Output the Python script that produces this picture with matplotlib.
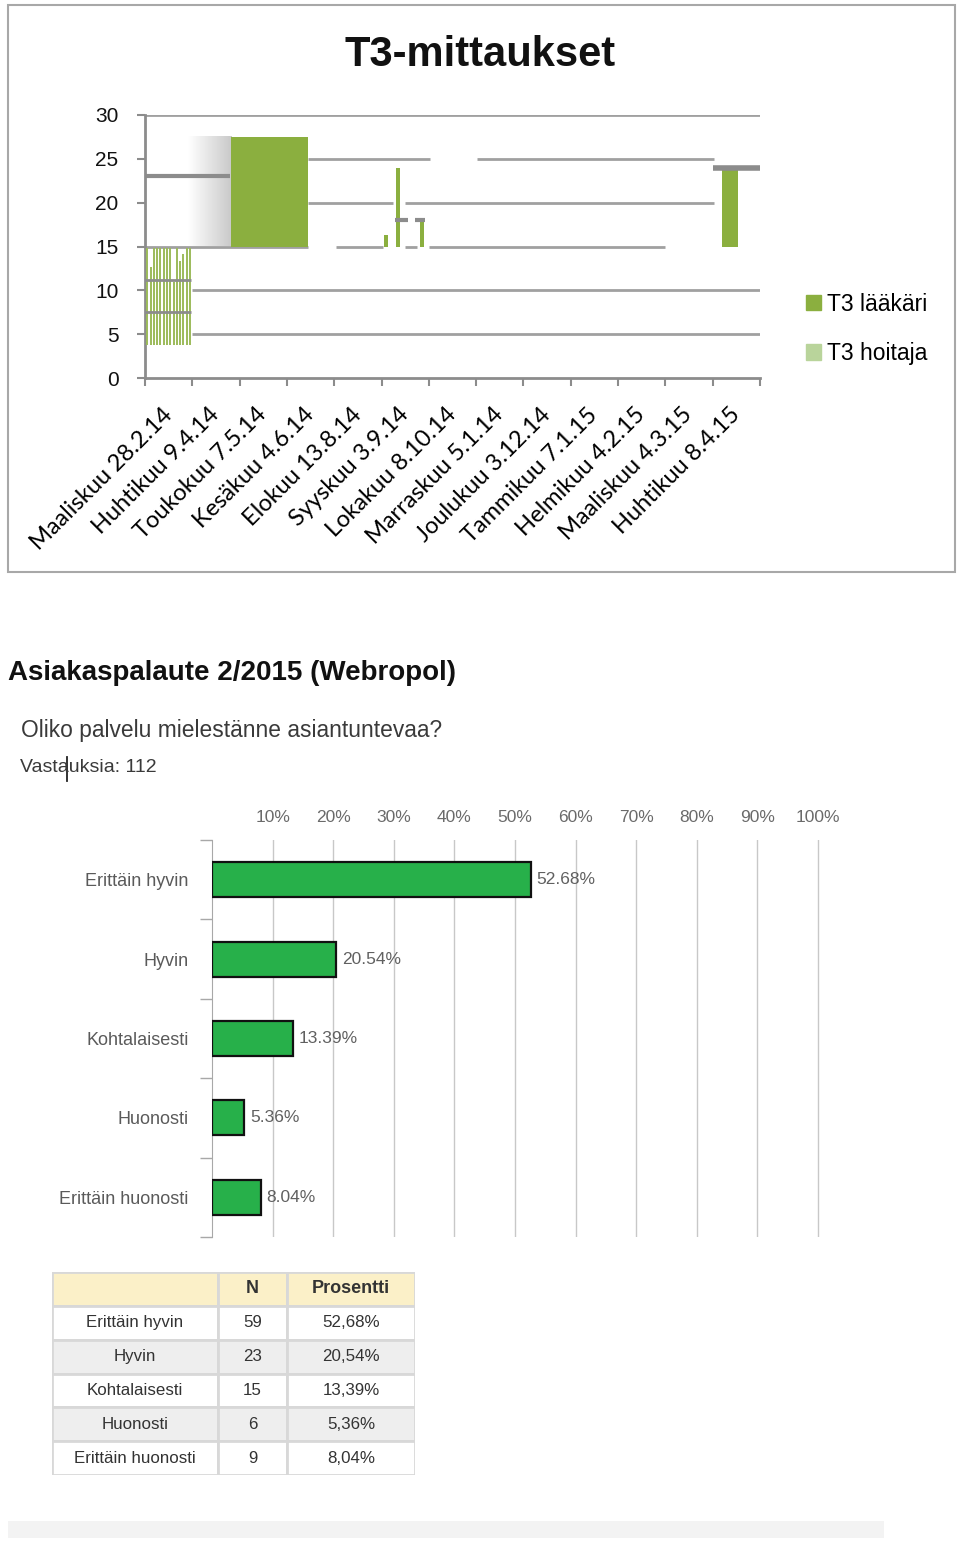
import numpy as np
import matplotlib.pyplot as plt
from matplotlib.patches import Rectangle, Patch
from matplotlib.lines import Line2D
from matplotlib.colors import LinearSegmentedColormap

W, H = 960, 1541
plt.rcParams['font.family'] = ['Liberation Sans', 'DejaVu Sans']

# ---- T3-mittaukset (the source chart is rendered broken, values read as drawn) ----
t3_dates = ['Maaliskuu 28.2.14', 'Huhtikuu 9.4.14', 'Toukokuu 7.5.14', 'Kesäkuu 4.6.14',
            'Elokuu 13.8.14', 'Syyskuu 3.9.14', 'Lokakuu 8.10.14', 'Marraskuu 5.1.14',
            'Joulukuu 3.12.14', 'Tammikuu 7.1.15', 'Helmikuu 4.2.15', 'Maaliskuu 4.3.15',
            'Huhtikuu 8.4.15']
series_names = ['T3 lääkäri', 'T3 hoitaja']
series_colors = ['#8BAF3F', '#B9D49B']

# lääkäri bars: position (category units), width, bottom, top
laakari_pos = [2.63, 5.09, 5.35, 5.86, 12.37]
laakari_w = [1.63, 0.08, 0.08, 0.08, 0.34]
laakari_low = [15, 15, 15, 15, 15]
laakari_high = [27.5, 16.3, 24, 18, 24]

# hoitaja shows up as thin stripes in the first category
hoitaja_top = [14.8, 12.7, 14.8, 14.8, 14.8, 14.8, 14.8, 14.8, 11.0, 14.8, 13.4, 14.2, 14.8, 14.8]
hoitaja_low = 3.8

# grey caps / stray lines
cap_y = [23, 24, 18, 18, 11.2, 7.5]
cap_x0 = [0, 12.0, 5.28, 5.70, 0, 0]
cap_x1 = [1.8, 13.0, 5.56, 5.92, 0.98, 0.98]
cap_lw = [3, 4, 3, 3, 2, 2]

# broken gridlines
grid_y = [30, 25, 25, 20, 20, 15, 15, 15, 15, 10, 5]
grid_x0 = [0, 3.45, 7.02, 3.45, 5.49, 0, 4.04, 5.49, 6.0, 1.0, 1.0]
grid_x1 = [13, 6.02, 12.03, 5.24, 12.03, 3.45, 5.03, 5.75, 11.0, 13, 13]

# ---- Webropol survey ----
answers = ['Erittäin hyvin', 'Hyvin', 'Kohtalaisesti', 'Huonosti', 'Erittäin huonosti']
counts = [59, 23, 15, 6, 9]
percents = [52.68, 20.54, 13.39, 5.36, 8.04]
pct_ticks = [10, 20, 30, 40, 50, 60, 70, 80, 90, 100]
table_header = ['', 'N', 'Prosentti']


def px(x0, y0, x1, y1):
    return [x0 / W, 1 - y1 / H, (x1 - x0) / W, (y1 - y0) / H]


fig = plt.figure(figsize=(W / 100, H / 100), dpi=100)

# frame around the first chart
fig.patches.append(Rectangle((8 / W, 1 - 572 / H), 947 / W, 567 / H, transform=fig.transFigure,
                             fill=False, edgecolor='#A8A8A8', lw=1.5))
fig.text(480 / W, 1 - 55 / H, 'T3-mittaukset', ha='center', va='center',
         fontsize=30, fontweight='bold', color='#111111')

ax = fig.add_axes(px(145, 115, 760, 378))
ax.set_xlim(0, 13)
ax.set_ylim(0, 30)
gray = '#8C8C8C'
ax.hlines(grid_y, grid_x0, grid_x1, colors='#A0A0A0', lw=2, zorder=1)

# shadow that sits left of the big bar
shade = LinearSegmentedColormap.from_list('shade', ['#FFFFFF', '#FFFFFF', '#C9C9C9'])
ax.imshow(np.linspace(0, 1, 200)[None, :], cmap=shade, extent=(0, 1.82, 15, 27.5),
          aspect='auto', zorder=1.5)

ax.bar(laakari_pos, np.array(laakari_high) - np.array(laakari_low), width=laakari_w,
       bottom=laakari_low, color=series_colors[0], zorder=3)
stripe_x = np.linspace(0.05, 0.95, len(hoitaja_top))
ax.vlines(stripe_x, hoitaja_low, hoitaja_top, colors='#9CBB5A', lw=1.4, zorder=3)
ax.hlines(cap_y, cap_x0, cap_x1, colors=gray, lw=cap_lw, zorder=4)

for sp in ['top', 'right']:
    ax.spines[sp].set_visible(False)
for sp in ['left', 'bottom']:
    ax.spines[sp].set_color(gray)
    ax.spines[sp].set_linewidth(2)
ax.set_yticks(range(0, 31, 5))
ax.tick_params(axis='y', length=6, width=1.5, color=gray, pad=13, labelsize=15, labelcolor='#111111')
ax.set_xticks(range(14))
ax.set_xticklabels([])
ax.tick_params(axis='x', which='major', length=6, width=1.5, color=gray)
ax.set_xticks(np.arange(13) + 0.5, minor=True)
ax.set_xticklabels(t3_dates, minor=True, rotation=45, ha='right', va='center',
                   rotation_mode='anchor', fontsize=17, family=['Lato', 'DejaVu Sans'])
ax.tick_params(axis='x', which='minor', length=0, pad=24)
ax.patch.set_alpha(0)

handles = [Patch(color=c) for c in series_colors]
fig.legend(handles, series_names, loc='center left', bbox_to_anchor=(785 / W, 1 - 329 / H),
           frameon=False, fontsize=16.5, labelspacing=1.15, handlelength=0.65, handleheight=0.65,
           handletextpad=0.3)

# ---- second part ----
fig.text(8 / W, 1 - 673 / H, 'Asiakaspalaute 2/2015 (Webropol)', ha='left', va='center',
         fontsize=20, fontweight='bold', color='#111111')
fig.text(21 / W, 1 - 730 / H, 'Oliko palvelu mielestänne asiantuntevaa?', ha='left', va='center',
         fontsize=16.4, color='#3A3A3A')
fig.text(20 / W, 1 - 767 / H, 'Vastauksia: 112', ha='left', va='center', fontsize=14, color='#3A3A3A')
fig.lines.append(Line2D([67 / W, 67 / W], [1 - 757 / H, 1 - 781 / H], transform=fig.transFigure,
                        color='#222222', lw=1.3))

bx = fig.add_axes(px(212, 840, 824, 1237))
bx.set_xlim(0, 101)
bx.set_ylim(len(answers) - 0.5, -0.5)
ypos = np.arange(len(answers))
bx.barh(ypos, percents, height=0.44, color='#27B04A', edgecolor='#111111', lw=1.6, zorder=3)
for y, p in zip(ypos, percents):
    bx.annotate(f'{p:.2f}%', xy=(p, y), xytext=(4, 0), textcoords='offset points',
                va='center', ha='left', fontsize=12.5, color='#606060')
bx.xaxis.tick_top()
bx.set_xticks(pct_ticks)
bx.set_xticklabels([f'{t}%' for t in pct_ticks])
bx.tick_params(axis='x', length=0, pad=11, labelsize=12.5, labelcolor='#6A6A6A')
bx.grid(axis='x', color='#C8C8C8', lw=1)
bx.set_axisbelow(True)
bx.set_yticks(ypos)
bx.set_yticklabels(answers)
bx.tick_params(axis='y', length=0, pad=17, labelsize=13, labelcolor='#5A5A5A')
bx.set_yticks(np.arange(len(answers) + 1) - 0.5, minor=True)
bx.tick_params(axis='y', which='minor', length=9, color='#A8A8A8', width=1)
for sp in ['top', 'right', 'bottom']:
    bx.spines[sp].set_visible(False)
bx.spines['left'].set_color('#A8A8A8')

# ---- table ----
tx = fig.add_axes(px(52, 1272, 415, 1475))
col_edges = [0, 166, 235, 363]
n_rows = len(answers) + 1
tx.set_xlim(0, col_edges[-1])
tx.set_ylim(n_rows, 0)
tx.axis('off')
rows = [table_header] + [[a, str(n), f'{p:.2f}%'.replace('.', ',')]
                         for a, n, p in zip(answers, counts, percents)]
for r, row in enumerate(rows):
    if r == 0:
        fc = '#FBF0C8'
    else:
        fc = '#FFFFFF' if r % 2 == 1 else '#EEEEEE'
    for c, val in enumerate(row):
        x0, x1 = col_edges[c], col_edges[c + 1]
        tx.add_patch(Rectangle((x0, r), x1 - x0, 1, facecolor=fc, edgecolor='#D8D8D8', lw=2))
        tx.text((x0 + x1) / 2, r + 0.5, val, ha='center', va='center',
                fontsize=13 if r == 0 else 12.2, color='#333333',
                fontweight='bold' if r == 0 else 'normal')

fig.patches.append(Rectangle((8 / W, 1 - 1538 / H), 876 / W, 17 / H, transform=fig.transFigure,
                             facecolor='#F3F3F3', edgecolor='none'))

fig.savefig('out.png', dpi=100)
